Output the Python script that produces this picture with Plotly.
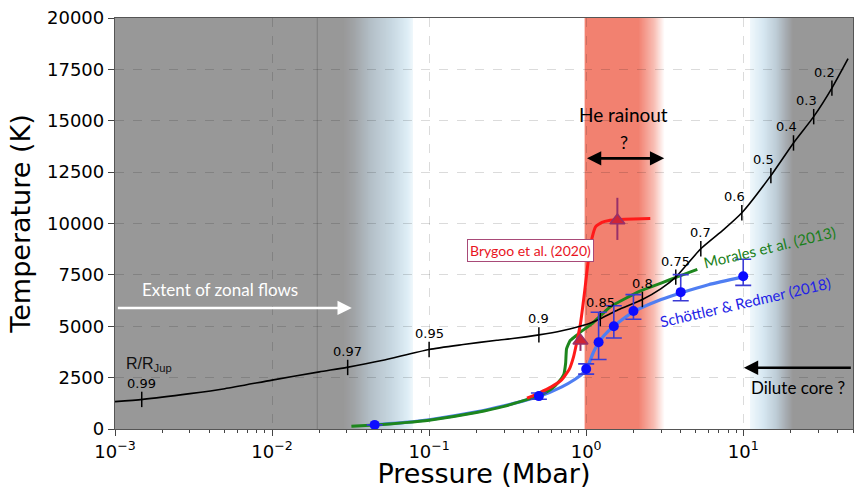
import base64
import struct
import zlib

import numpy as np
import plotly.graph_objects as go

# ---------------- data ----------------
# Jupiter adiabat (black) with R/R_Jup markers
rj_p = [0.001, 0.0015, 0.003, 0.005, 0.01, 0.02, 0.03, 0.05, 0.1, 0.165, 0.27, 0.34, 0.5, 0.7,
        1.0, 1.23, 1.6, 2.28, 3.0, 3.72, 5.37, 7.5, 9.8, 15.0, 20.9, 28.1, 36.7, 46.5]
rj_t = [1330, 1440, 1720, 1960, 2380, 2780, 3000, 3330, 3870, 4110, 4320, 4400, 4580, 4780,
        5080, 5370, 5800, 6300, 6830, 7390, 8770, 9700, 10520, 12330, 13920, 15200, 16590, 18020]

tick_labels = ["0.99", "0.97", "0.95", "0.9", "0.85", "0.8", "0.75", "0.7", "0.6", "0.5", "0.4", "0.3", "0.2"]
tick_p = [0.00148, 0.0303, 0.1, 0.5, 1.23, 2.28, 3.72, 5.37, 9.8, 15.0, 20.9, 28.1, 36.7]
tick_t = [1440, 2995, 3870, 4580, 5370, 6300, 7390, 8770, 10520, 12330, 13920, 15200, 16590]

# Morales et al. (2013) – green
mor_p = [0.032, 0.045, 0.07, 0.1, 0.2, 0.3, 0.5, 0.6, 0.67, 0.72, 0.74, 0.75, 0.79, 0.85,
         0.95, 1.09, 1.42, 2.2, 3.0, 3.8, 5.1]
mor_t = [130, 190, 310, 430, 800, 1100, 1620, 1950, 2300, 2650, 3200, 3900, 4300, 4500,
         4800, 5130, 5940, 6710, 7100, 7400, 7770]

# Schöttler & Redmer (2018) – blue line and points
sr_line_p = [0.043, 0.07, 0.1, 0.2, 0.3, 0.5, 0.7, 0.85, 0.95, 1.0, 1.05, 1.1, 1.15, 1.2,
             1.3, 1.5, 2.0, 3.0, 4.0, 6.0, 10.0]
sr_line_t = [190, 320, 450, 830, 1130, 1580, 2050, 2420, 2700, 2900, 3250, 3650, 3950, 4200,
             4550, 5000, 5700, 6300, 6620, 7020, 7400]
sr_pt_p = [0.045, 0.5, 1.0, 1.2, 1.5, 2.0, 4.0, 10.0]
sr_pt_t = [200, 1600, 2920, 4220, 5000, 5740, 6660, 7430]
sr_err_up = [0, 150, 250, 1460, 1000, 800, 850, 830]
sr_err_dn = [0, 150, 250, 840, 570, 400, 420, 440]

# Brygoo et al. (2020) – red line and points
bry_p = [0.42, 0.5, 0.6, 0.7, 0.78, 0.83, 0.87, 0.92, 0.98, 1.02, 1.09, 1.15, 1.26, 1.4,
         1.55, 2.0, 2.56]
bry_t = [1500, 1750, 2050, 2400, 2900, 3500, 4200, 5130, 6750, 7900, 9300, 9850, 10060,
         10150, 10180, 10220, 10240]
bry_pt_p = [0.92, 1.58]
bry_pt_t = [4300, 10150]
bry_err_up = [0, 1100]
bry_err_dn = [500, 950]

x_tick_vals = [1e-3, 1e-2, 1e-1, 1e0, 1e1]
x_tick_text = ["10<sup>−3</sup>", "10<sup>−2</sup>", "10<sup>−1</sup>", "10<sup>0</sup>", "10<sup>1</sup>"]
y_tick_vals = [0, 2500, 5000, 7500, 10000, 12500, 15000, 17500, 20000]

# ---------------- styling ----------------
GRAY = (152, 152, 152)
WHITE = (255, 255, 255)
RED_BAND = (242, 129, 112)
X_MIN, X_MAX = 1e-3, 50.0

LEFT_FADE = (0.0283, 0.079, [(0, GRAY), (0.15, (160, 163, 166)), (0.4, (180, 192, 200)),
                             (0.7, (200, 216, 226)), (0.92, (222, 238, 246)), (1.0, (240, 248, 252))])
RIGHT_FADE = (11.1, 20.8, [(0, (240, 248, 252)), (0.3, (215, 232, 242)), (0.6, (190, 205, 215)),
                           (0.85, (165, 170, 175)), (1.0, GRAY)])
RED_SOLID = (0.975, 2.15)
RED_FADE = (2.15, 3.15, [(0, RED_BAND), (0.6, (248, 190, 180)), (1.0, WHITE)])


def lerp_color(stops, f):
    for (f0, c0), (f1, c1) in zip(stops[:-1], stops[1:]):
        if f0 <= f <= f1:
            t = 0 if f1 == f0 else (f - f0) / (f1 - f0)
            return tuple(int(round(a + (b - a) * t)) for a, b in zip(c0, c1))
    return stops[-1][1]


def frac(p, a, b):
    return (np.log10(p) - np.log10(a)) / (np.log10(b) - np.log10(a))


def bg_color(p):
    if p < LEFT_FADE[0]:
        return GRAY
    if p < LEFT_FADE[1]:
        return lerp_color(LEFT_FADE[2], frac(p, LEFT_FADE[0], LEFT_FADE[1]))
    if p < RED_SOLID[0]:
        return WHITE
    if p < RED_SOLID[1]:
        return RED_BAND
    if p < RED_FADE[1]:
        return lerp_color(RED_FADE[2], frac(p, RED_FADE[0], RED_FADE[1]))
    if p < RIGHT_FADE[0]:
        return WHITE
    if p < RIGHT_FADE[1]:
        return lerp_color(RIGHT_FADE[2], frac(p, RIGHT_FADE[0], RIGHT_FADE[1]))
    return GRAY


def png_data_uri(row, height=2):
    w = len(row)
    line = b"\x00" + bytes(v for c in row for v in c)
    raw = line * height

    def chunk(tag, data):
        return struct.pack(">I", len(data)) + tag + data + struct.pack(">I", zlib.crc32(tag + data) & 0xffffffff)

    png = b"\x89PNG\r\n\x1a\n" + chunk(b"IHDR", struct.pack(">IIBBBBB", w, height, 8, 2, 0, 0, 0)) \
        + chunk(b"IDAT", zlib.compress(raw, 9)) + chunk(b"IEND", b"")
    return "data:image/png;base64," + base64.b64encode(png).decode()


NCOL = 1600
lmin, lmax = np.log10(X_MIN), np.log10(X_MAX)
row = [bg_color(10 ** (lmin + (lmax - lmin) * (i + 0.5) / NCOL)) for i in range(NCOL)]
bg_image = dict(source=png_data_uri(row), xref="x", yref="paper", x=lmin, y=1,
                sizex=lmax - lmin, sizey=1, xanchor="left", yanchor="top",
                sizing="stretch", layer="below")

shapes = [dict(type="line", xref="x", yref="paper", x0=0.0194, x1=0.0194, y0=0, y1=1,
               line=dict(color="rgba(110,110,110,0.6)", width=1), layer="below")]

fig = go.Figure()

# ---------------- traces ----------------
fig.add_trace(go.Scatter(x=sr_line_p, y=sr_line_t, mode="lines",
                         line=dict(color="#4f7ef2", width=3.2, shape="spline", smoothing=0.6),
                         hoverinfo="skip", showlegend=False))
fig.add_trace(go.Scatter(x=mor_p, y=mor_t, mode="lines",
                         line=dict(color="#1d861d", width=3, shape="spline", smoothing=0.4),
                         hoverinfo="skip", showlegend=False))
fig.add_trace(go.Scatter(x=bry_p, y=bry_t, mode="lines",
                         line=dict(color="#ff1a1a", width=3, shape="spline", smoothing=0.4),
                         hoverinfo="skip", showlegend=False))
fig.add_trace(go.Scatter(x=rj_p, y=rj_t, mode="lines",
                         line=dict(color="black", width=1.6, shape="spline", smoothing=0.6),
                         hoverinfo="skip", showlegend=False))
fig.add_trace(go.Scatter(x=tick_p, y=tick_t, mode="markers",
                         marker=dict(symbol="line-ns", size=11, line=dict(color="black", width=1.5)),
                         hoverinfo="skip", showlegend=False))
fig.add_trace(go.Scatter(x=sr_pt_p, y=sr_pt_t, mode="markers",
                         marker=dict(symbol="circle", size=10, color="#0c0cff"),
                         error_y=dict(type="data", symmetric=False, array=sr_err_up, arrayminus=sr_err_dn,
                                      color="#3b3bd4", thickness=1.6, width=8),
                         hoverinfo="skip", showlegend=False))
fig.add_trace(go.Scatter(x=bry_pt_p, y=bry_pt_t, mode="markers",
                         marker=dict(symbol="triangle-up", size=13, color="#cf2436",
                                     line=dict(color="#98306a", width=1.5)),
                         error_y=dict(type="data", symmetric=False, array=bry_err_up, arrayminus=bry_err_dn,
                                      color="#98306a", thickness=2, width=0),
                         hoverinfo="skip", showlegend=False))

# ---------------- annotations ----------------
ann = []
for lab, p, t in zip(tick_labels, tick_p, tick_t):
    xs = -7 if p > 8 else 0
    ann.append(dict(x=np.log10(p), y=t, xref="x", yref="y", text=lab, showarrow=False,
                    xshift=xs, yshift=16, font=dict(family="DejaVu Sans", size=13, color="black")))

ann.append(dict(x=np.log10(0.00164), y=3140, xref="x", yref="y", showarrow=False,
                text="R/R<sub>Jup</sub>", font=dict(family="Liberation Sans", size=16, color="#111")))

GILL = "Lato"
ann += [
    dict(x=np.log10(1.73), y=15320, xref="x", yref="y", text="He rainout", showarrow=False,
         font=dict(family=GILL, size=19, color="black")),
    dict(x=np.log10(1.73), y=13980, xref="x", yref="y", text="?", showarrow=False,
         font=dict(family=GILL, size=18, color="black")),
    dict(x=np.log10(3.14), y=13170, ax=np.log10(0.99), ay=13170, xref="x", yref="y",
         axref="x", ayref="y", text="", showarrow=True, arrowhead=2, arrowside="end+start",
         arrowsize=1.1, arrowwidth=2.6, arrowcolor="black"),
    dict(x=np.log10(0.00467), y=6800, xref="x", yref="y", text="Extent of zonal flows",
         showarrow=False, font=dict(family=GILL, size=17, color="white")),
    dict(x=np.log10(0.0322), y=5890, ax=np.log10(0.00102), ay=5890, xref="x", yref="y",
         axref="x", ayref="y", text="", showarrow=True, arrowhead=2, arrowsize=1.1,
         arrowwidth=2.6, arrowcolor="white"),
    dict(x=np.log10(22.2), y=2020, xref="x", yref="y", text="Dilute core ?", showarrow=False,
         font=dict(family=GILL, size=17, color="black")),
    dict(x=np.log10(10.1), y=2980, ax=np.log10(49.5), ay=2980, xref="x", yref="y",
         axref="x", ayref="y", text="", showarrow=True, arrowhead=2, arrowsize=1.1,
         arrowwidth=2.6, arrowcolor="black"),
    dict(x=np.log10(0.445), y=8710, xref="x", yref="y", text="Brygoo et al. (2020)",
         showarrow=False, font=dict(family=GILL, size=14, color="#e8141e"),
         bordercolor="#a84a78", borderwidth=1, borderpad=2, bgcolor="white"),
    dict(x=np.log10(14.65), y=8880, xref="x", yref="y", text="Morales et al. (2013)",
         showarrow=False, textangle=-13.5, font=dict(family=GILL, size=15, color="#1a7f1a")),
    dict(x=np.log10(10.3), y=6180, xref="x", yref="y", text="Schöttler &amp; Redmer (2018)",
         showarrow=False, textangle=-13, font=dict(family=GILL, size=15, color="#2323e6")),
]

minor_vals = [m * 10 ** e for e in range(-3, 2) for m in range(2, 10) if m * 10 ** e <= X_MAX]

fig.update_layout(
    width=854, height=489,
    margin=dict(l=115, r=1, t=18, b=60),
    paper_bgcolor="white", plot_bgcolor="white",
    images=[bg_image], shapes=shapes, annotations=ann,
    xaxis=dict(type="log", range=[lmin, lmax],
               tickmode="array", tickvals=x_tick_vals, ticktext=x_tick_text,
               ticks="outside", ticklen=6, tickwidth=1.2, tickcolor="#444",
               showline=True, linecolor="#555", linewidth=1.3, mirror=True,
               showgrid=True, gridcolor="rgba(0,0,0,0.14)", griddash="dash", gridwidth=1,
               minor=dict(tickmode="array", tickvals=minor_vals, ticks="outside", ticklen=3,
                          tickcolor="#444", showgrid=False),
               tickfont=dict(family="DejaVu Sans", size=18, color="black"),
               title=dict(text="Pressure (Mbar)", standoff=2,
                          font=dict(family="DejaVu Sans", size=27, color="black")),
               zeroline=False),
    yaxis=dict(range=[0, 20000], tickmode="array", tickvals=y_tick_vals,
               ticktext=[str(v) for v in y_tick_vals],
               ticks="outside", ticklen=6, tickwidth=1.2, tickcolor="#444",
               showline=True, linecolor="#555", linewidth=1.3, mirror=True,
               showgrid=True, gridcolor="rgba(0,0,0,0.14)", griddash="dash", gridwidth=1,
               tickfont=dict(family="DejaVu Sans", size=18, color="black"),
               title=dict(text="Temperature (K)", standoff=8,
                          font=dict(family="DejaVu Sans", size=27, color="black")),
               zeroline=False),
)

fig.write_html("out.html")
